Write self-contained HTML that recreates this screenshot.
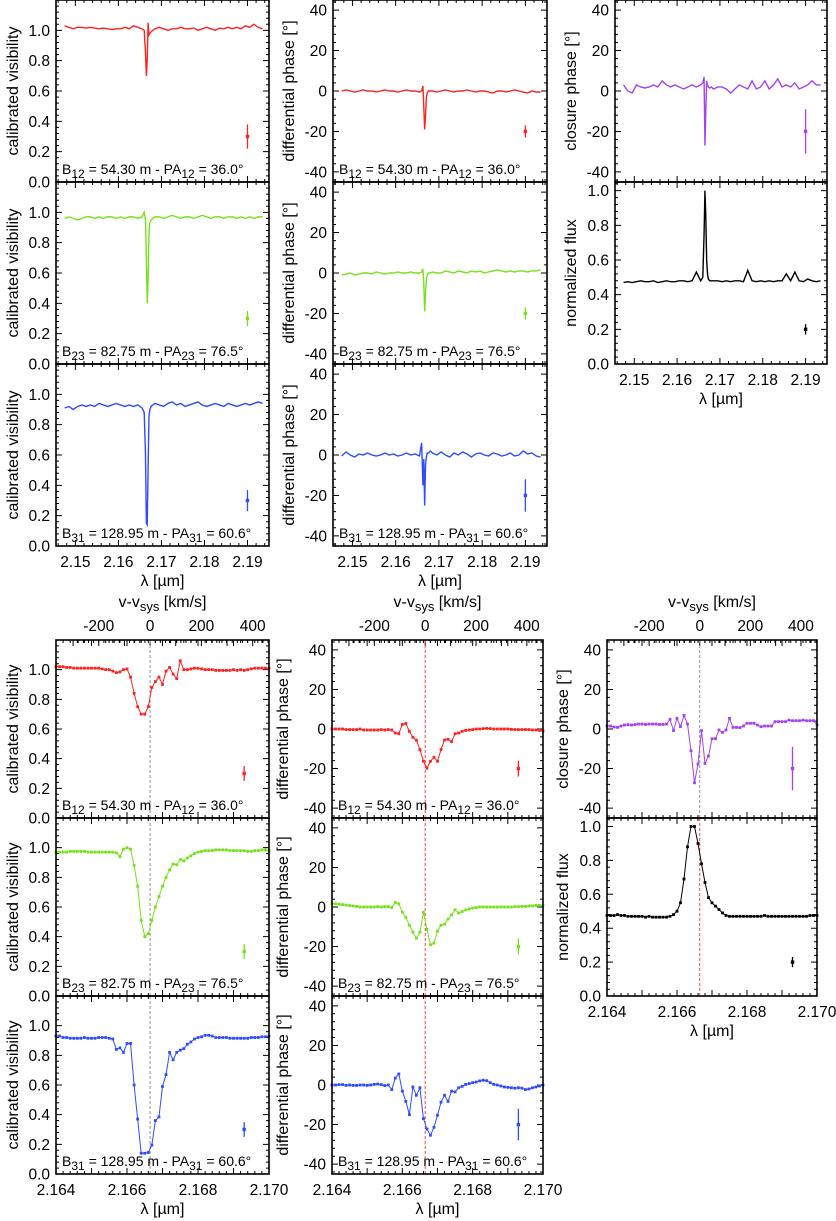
<!DOCTYPE html>
<html><head><meta charset="utf-8"><style>
html,body{margin:0;padding:0;background:#fff;}
svg{display:block;font-family:"Liberation Sans",Arial,sans-serif;}
</style></head><body>
<svg id="fig" width="836" height="1221" viewBox="0 0 836 1221"></svg>
<script>
// ---------- TOP (full spectral range) data ----------
const topWl=[2.1475,2.1485,2.1495,2.1505,2.1515,2.1525,2.1535,2.1545,2.1555,2.1565,2.1575,2.1585,2.1595,2.1605,2.1615,2.1625,2.1635,2.1645,2.1655,
2.1660,2.1663,2.1665,2.1667,2.1669,2.1671,2.1673,2.1676,2.1680,
2.1685,2.1695,2.1705,2.1715,2.1725,2.1735,2.1745,2.1755,2.1765,2.1775,2.1785,2.1795,2.1805,2.1815,2.1825,2.1835,2.1845,2.1855,2.1865,2.1875,2.1885,2.1895,2.1905,2.1915,2.1925,2.1935];
const topVis12=[1.03,1.02,1.01,1.02,1.02,1.015,1.02,1.015,1.01,1.015,1.01,1.005,1.01,1.01,1.02,1.01,1.03,1.02,1.01,
1.0,0.85,0.70,0.80,1.05,0.97,0.98,0.99,1.0,
1.01,1.02,1.01,1.0,1.01,1.01,1.02,1.01,1.01,1.015,1.0,1.01,1.02,1.01,1.0,1.015,1.01,1.02,1.01,1.02,1.01,1.03,1.02,1.04,1.02,1.01];
const topVis23=[0.96,0.97,0.96,0.95,0.96,0.97,0.97,0.96,0.97,0.96,0.97,0.97,0.96,0.97,0.96,0.97,0.97,0.96,0.97,
1.0,0.95,0.70,0.40,0.55,0.85,0.93,0.95,0.96,
0.97,0.97,0.96,0.97,0.98,0.97,0.96,0.97,0.97,0.96,0.97,0.98,0.97,0.96,0.97,0.97,0.96,0.97,0.97,0.96,0.97,0.96,0.97,0.96,0.97,0.97];
const topVis31=[0.91,0.92,0.90,0.92,0.93,0.92,0.93,0.92,0.94,0.93,0.92,0.93,0.94,0.93,0.92,0.93,0.92,0.93,0.91,
0.88,0.60,0.15,0.14,0.50,0.85,0.90,0.92,0.93,
0.94,0.93,0.92,0.94,0.95,0.93,0.94,0.92,0.93,0.94,0.95,0.93,0.92,0.93,0.94,0.93,0.92,0.94,0.93,0.92,0.93,0.94,0.93,0.94,0.95,0.94];
const topPhi12=[0,0.5,0,-0.5,0,0.5,0,0,-0.5,0,0.5,0,0,-0.5,0,0.5,0,0,-0.5,
0,2.5,-8,-19,-12,-3,-1,0,0,
0,-0.5,0,0.5,0,-0.5,0,0,0.5,0,-0.5,0,0,-0.5,-1,0,0,-0.5,0,0.5,0,-0.5,-1,0,-0.5,-0.5];
const topPhi23=[-1,-0.5,0,-1,-0.5,0,0,-0.5,0.5,0,-0.5,0,0,0.5,0,0,0.5,0,0,
0.5,2,-5,-19,-10,-3,-1,0,0,
0.5,0,0,1,0.5,0,1,0.5,0,1,0.5,1,0,0.5,1,1.5,1,0.5,1,0.5,1,1,0.5,1,1,1.5];
const topPhi31=[-0.5,1.5,0,-1,0.5,0,1,0,-0.5,0,1,0,0.5,-0.5,0,1,0,0.5,-0.5,
6,-15,-2,-25,-5,-1,1,1,2,
1,0,1.5,0,-1,1,0,1.5,0.5,-1,0.5,1,0,-0.5,1,0.5,-0.5,0,1,-0.5,0,2,0.5,1,-0.5,-1];
const topCP=[3,0,-1,3,2,1.5,2,3,2,5,3,2,3,2,1,2,3,2,3,
4,7,-27,-10,5,3,2,1.5,2,
1,2,2,1,-1,1,3,2,1,5,1,2,5,1,3,6,2,3,2,4,1,2,3,5,3,3];
const topFlux=[0.47,0.475,0.47,0.475,0.48,0.475,0.475,0.48,0.47,0.475,0.48,0.475,0.475,0.48,0.48,0.475,0.48,0.53,0.48,
0.50,0.75,1.0,0.85,0.60,0.52,0.49,0.48,0.48,
0.48,0.48,0.475,0.48,0.475,0.48,0.48,0.475,0.54,0.48,0.475,0.48,0.475,0.48,0.475,0.48,0.48,0.52,0.48,0.53,0.48,0.475,0.49,0.48,0.475,0.48];
const topXTicks=[2.15,2.16,2.17,2.18,2.19];

// ---------- BOTTOM (zoom on Br gamma) data, 61 channels 2.164-2.170 ----------
const botVis12=[1.02,1.02,1.02,1.015,1.015,1.01,1.01,1.01,1.01,1.01,1.01,1.01,1.01,1.005,1.0,1.0,0.99,0.98,0.985,1.0,1.005,0.95,0.84,0.75,0.70,0.70,0.75,0.88,0.92,0.95,0.90,0.99,1.015,0.97,0.94,1.06,1.0,1.0,1.005,1.01,1.01,1.005,1.0,1.0,1.0,0.995,0.995,0.995,0.995,0.995,1.0,0.995,1.0,0.995,1.0,1.005,1.01,1.01,1.01,1.01,1.01];
const botVis23=[0.97,0.97,0.97,0.97,0.975,0.975,0.975,0.975,0.975,0.97,0.97,0.97,0.97,0.97,0.97,0.97,0.97,0.965,0.94,0.99,1.0,0.99,0.88,0.74,0.51,0.40,0.42,0.51,0.60,0.67,0.74,0.80,0.85,0.89,0.885,0.92,0.91,0.93,0.945,0.96,0.97,0.975,0.98,0.98,0.98,0.985,0.985,0.985,0.985,0.98,0.98,0.98,0.98,0.98,0.975,0.975,0.98,0.98,0.985,0.985,0.98];
const botVis31=[0.93,0.93,0.92,0.92,0.915,0.915,0.915,0.915,0.92,0.915,0.915,0.915,0.92,0.92,0.92,0.915,0.91,0.84,0.85,0.82,0.88,0.88,0.60,0.37,0.14,0.14,0.145,0.195,0.36,0.385,0.59,0.67,0.82,0.77,0.82,0.835,0.845,0.875,0.89,0.91,0.92,0.925,0.935,0.935,0.93,0.92,0.92,0.92,0.92,0.915,0.915,0.915,0.915,0.915,0.915,0.92,0.92,0.92,0.925,0.925,0.93];
const botPhi12=[0,0,0,0,-0.3,-0.3,-0.3,-0.3,0,-0.5,-0.5,-0.5,-0.5,-0.5,-0.3,-0.5,-0.3,-0.5,-2,-2.4,2.3,2.8,-1.2,-4.2,-5.6,-10.4,-16.3,-19.8,-16.3,-14.3,-16.3,-10.4,-5.6,-5.2,-6.4,-2.4,-2,-1.2,-0.7,-0.5,-0.3,0,0,0.2,0.3,0.2,0,0,0,0,0,-0.2,-0.3,-0.3,-0.3,-0.3,-0.3,-0.5,-0.5,-0.7,-1.0];
const botPhi23=[1.7,1.6,1.4,1.2,1.0,0.7,0.5,0.3,0,0,0,0,0,0.2,0,0.2,0.2,-0.3,2.3,1.6,-2.6,-5.2,-9.2,-12.7,-15.8,-12.7,-2.6,-11.3,-19.1,-18.3,-12.2,-9.2,-8.7,-6.1,-4,-1.4,-3,-2.3,-1.5,-1.0,-0.5,-0.3,0,0,0,0,0,0,0,0,0,0,0.2,0.2,0.3,0.3,0.5,0.6,0.8,0.8,0.9];
const botPhi31=[0,0,0.2,0.2,-0.2,0,-0.2,-0.2,0,0,-0.2,0,0.3,0.5,0.2,-0.3,0,-2.3,3.5,5.6,-3.1,-8.3,-15,-1,-5.2,-1.4,-17,-22.3,-25.4,-21.4,-15.3,-8.7,-5.2,-8.3,-3.1,-3.5,-1.4,-0.7,0.3,0.7,1.2,1.5,2.1,2.4,2.2,1.2,0.3,0,-0.5,-1.0,-1.2,-1.4,-1.6,-1.4,-1.6,-2.3,-2.0,-1.4,-1.0,-0.5,0];
const botCP=[1.5,1.5,1.0,0.8,1.5,2.0,2.2,2.0,2.2,2.5,2.5,2.3,2.5,2.5,2.5,2.3,2.3,2.5,4.9,-0.8,5.4,1.2,6.9,2.5,-11,-27.2,-17.7,-0.8,-17.4,-13.7,-4.9,-4.9,-0.5,-1.7,-0.5,5.4,0.8,0.8,0.7,1.5,2.9,2.9,2.9,2.0,1.2,1.5,1.5,1.5,3.7,3.7,3.7,3.7,4.5,4.2,4.2,4.2,4.5,4.2,4.2,4.2,2.0];
const botFlux=[0.475,0.475,0.475,0.48,0.475,0.475,0.47,0.47,0.47,0.47,0.47,0.465,0.47,0.465,0.465,0.465,0.465,0.465,0.47,0.48,0.50,0.55,0.69,0.88,1.0,1.0,0.90,0.78,0.67,0.58,0.55,0.53,0.51,0.49,0.475,0.47,0.47,0.47,0.47,0.47,0.47,0.47,0.47,0.47,0.47,0.475,0.47,0.47,0.47,0.47,0.47,0.47,0.47,0.47,0.47,0.47,0.47,0.47,0.475,0.475,0.475];
const botXTicks=[2.164,2.166,2.168,2.170];
const velTicks=[-200,0,200,400];
const lambda0=2.16665;

const NS='http://www.w3.org/2000/svg';
const svg=document.getElementById('fig');
function mk(tag,parent){const e=document.createElementNS(NS,tag);parent.appendChild(e);return e;}

function txt(parent,x,y,s,size,anchor,rot){
  const t=mk('text',parent);
  t.setAttribute('x',x);t.setAttribute('y',y);
  t.setAttribute('font-size',size);t.setAttribute('text-anchor',anchor||'middle');
  if(rot){t.setAttribute('transform','rotate(-90 '+x+' '+y+')');}
  t.textContent=s;return t;
}
function baseLabel(parent,x,y,sub,B,PA){
  const t=mk('text',parent);
  t.setAttribute('x',x);t.setAttribute('y',y);t.setAttribute('font-size',14);
  const parts=[['B',0],[sub,1],[' = '+B+' m - PA',0],[sub,1],[' = '+PA+'\u00b0',0]];
  let shifted=false;
  parts.forEach(p=>{const s=mk('tspan',t);
    if(p[1]){s.setAttribute('dy','4');s.setAttribute('font-size','12');shifted=true;}
    else if(shifted){s.setAttribute('dy','-4');shifted=false;}
    s.textContent=p[0];});
  return t;
}

function panel(p){
  const g=mk('g',svg);
  
  
  const W=p.x1-p.x0,H=p.y1-p.y0;
  const sx=v=>p.x0+(v-p.xmin)/(p.xmax-p.xmin)*W;
  const sy=v=>p.y1-(v-p.ymin)/(p.ymax-p.ymin)*H;
  const tk=mk('path',g);
  
  
  let d='';
  const xs0=Math.ceil(p.xmin/p.xMinor-1e-6);
  for(let k=xs0;k*p.xMinor<=p.xmax+1e-9;k++){
    const v=k*p.xMinor;const X=sx(v);
    const maj=Math.abs(v/p.xMajor-Math.round(v/p.xMajor))<1e-4;
    const L=maj?6:3;
    d+='M'+X+' '+p.y1+'v'+(-L)+'M'+X+' '+p.y0+'v'+L;
  }
  const ys0=Math.ceil(p.ymin/p.yMinor-1e-6);
  for(let k=ys0;k*p.yMinor<=p.ymax+1e-9;k++){
    const v=k*p.yMinor;const Y=sy(v);
    const maj=Math.abs(v/p.yMajor-Math.round(v/p.yMajor))<1e-4;
    const L=maj?6:3;
    d+='M'+p.x0+' '+Y+'h'+L+'M'+p.x1+' '+Y+'h'+(-L);
  }
  if(p.vel){
    for(let v=-300;v<=500;v+=20){
      const lam=lambda0*(1+v/299792);
      if(lam<p.xmin||lam>p.xmax)continue;
      const X=sx(lam);const L=(v%100===0)?6:3;
      d+='M'+X+' '+p.y0+'v'+L;
    }
  }
  tk.setAttribute('d',d);tk.setAttribute('stroke','#000');tk.setAttribute('stroke-width','1');tk.setAttribute('fill','none');
  p.yLabels.forEach(v=>{
    const t=txt(g,p.x0-6,sy(v)+5.5,p.yFmt(v),15.5,'end');
    
    
  });
  const yt=txt(g,p.yTitleX,(p.y0+p.y1)/2,p.yTitle,16,'middle',true);
  
  
  if(p.xLabels){
    p.xLabels.forEach(v=>{
      const t=txt(g,sx(v),p.y1+21,v.toFixed(p.xDec),15.5,'middle');
      
      
    });
    const xt=txt(g,(p.x0+p.x1)/2,p.y1+40,'\u03bb [\u00b5m]',16,'middle');
    
    
  }
  if(p.vel){
    velTicks.forEach(v=>{
      const X=sx(lambda0*(1+v/299792));
      const t=txt(g,X,p.y0-9,String(v),15.5,'middle');
      
      
    });
    const vt=mk('text',g);
    
    
    vt.setAttribute('x',(p.x0+p.x1)/2);vt.setAttribute('y',p.y0-33);vt.setAttribute('font-size',16);vt.setAttribute('text-anchor','middle');
    const a=mk('tspan',vt);a.textContent='v-v';
    const b=mk('tspan',vt);b.setAttribute('dy','4');b.setAttribute('font-size','13');b.textContent='sys';
    const c=mk('tspan',vt);c.setAttribute('dy','-4');c.textContent=' [km/s]';
  }
  if(p.dashed){
    const dl=mk('line',g);
    
    
    dl.setAttribute('x1',sx(lambda0));dl.setAttribute('x2',sx(lambda0));
    dl.setAttribute('y1',p.y0);dl.setAttribute('y2',p.y1);
    dl.setAttribute('stroke',p.dashed);dl.setAttribute('stroke-width','0.9');dl.setAttribute('stroke-dasharray','3,2');
  }
  const wl=p.wl||p.vals.map((v,i)=>2.164+i*0.006/(p.vals.length-1));
  let pts='';
  p.vals.forEach((v,i)=>{pts+=sx(wl[i]).toFixed(2)+','+sy(v).toFixed(2)+' ';});
  const pl=mk('polyline',g);
  
  
  pl.setAttribute('points',pts);pl.setAttribute('fill','none');pl.setAttribute('stroke',p.color);pl.setAttribute('stroke-width',p.markers?'1':'1.4');
  if(p.markers){
    p.vals.forEach((v,i)=>{
      const r=mk('rect',g);
      
      
      r.setAttribute('x',sx(wl[i])-1.4);r.setAttribute('y',sy(v)-1.4);r.setAttribute('width',2.8);r.setAttribute('height',2.8);r.setAttribute('fill',p.color);
    });
  }
  const eb=mk('line',g);
  
  
  eb.setAttribute('x1',sx(p.eb[0]));eb.setAttribute('x2',sx(p.eb[0]));
  eb.setAttribute('y1',sy(p.eb[1]-p.eb[2]));eb.setAttribute('y2',sy(p.eb[1]+p.eb[2]));
  eb.setAttribute('stroke',p.color);eb.setAttribute('stroke-width','1.3');
  const ed=mk('rect',g);
  
  
  ed.setAttribute('x',sx(p.eb[0])-1.7);ed.setAttribute('y',sy(p.eb[1])-1.7);ed.setAttribute('width',3.4);ed.setAttribute('height',3.4);ed.setAttribute('fill',p.color);
  if(p.base){
    const bl=baseLabel(g,p.x0+6,p.y1-8,p.base[0],p.base[1],p.base[2]);
    
    
  }
  const fr=mk('rect',g);
  
  
  fr.setAttribute('x',p.x0);fr.setAttribute('y',p.y0);fr.setAttribute('width',W);fr.setAttribute('height',H);
  fr.setAttribute('fill','none');fr.setAttribute('stroke','#000');fr.setAttribute('stroke-width','1.6');
}

const RED='#ff2222',GRN='#77e21c',BLU='#2f4cff',PUR='#a542f2',BLK='#000';
const visLab=[0,0.2,0.4,0.6,0.8,1.0], phLab=[-40,-20,0,20,40];
const f1=v=>v.toFixed(1), f0=v=>String(v);
const bases=[['12','54.30','36.0'],['23','82.75','76.5'],['31','128.95','60.6']];

const tRows=[[0,182],[182,364],[364,546]];
const topVis=[topVis12,topVis23,topVis31], topPhi=[topPhi12,topPhi23,topPhi31], cols=[RED,GRN,BLU];
const topPhiErr=[3,3,8], topVisErr=[0.08,0.05,0.07];
for(let r=0;r<3;r++){
  panel({name:'top-visibility-panel-'+(r+1),x0:56,x1:269,y0:tRows[r][0],y1:tRows[r][1],xmin:2.1455,xmax:2.195,ymin:0,ymax:1.2,
    xMajor:0.01,xMinor:0.002,yMajor:0.2,yMinor:0.04,yLabels:visLab,yFmt:f1,yTitle:'calibrated visibility',yTitleX:18,
    xLabels:r===2?topXTicks:null,xDec:2,wl:topWl,vals:topVis[r],color:cols[r],eb:[2.19,0.3,topVisErr[r]],base:bases[r]});
  panel({name:'top-phase-panel-'+(r+1),x0:333,x1:547,y0:tRows[r][0],y1:tRows[r][1],xmin:2.1455,xmax:2.195,ymin:-45,ymax:45,
    xMajor:0.01,xMinor:0.002,yMajor:20,yMinor:4,yLabels:phLab,yFmt:f0,yTitle:'differential phase [\u00b0]',yTitleX:294,
    xLabels:r===2?topXTicks:null,xDec:2,wl:topWl,vals:topPhi[r],color:cols[r],eb:[2.19,-20,topPhiErr[r]],base:bases[r]});
}
panel({name:'top-closure-phase-panel',x0:615,x1:827,y0:0,y1:182,xmin:2.1455,xmax:2.195,ymin:-45,ymax:45,
  xMajor:0.01,xMinor:0.002,yMajor:20,yMinor:4,yLabels:phLab,yFmt:f0,yTitle:'closure phase [\u00b0]',yTitleX:576,
  xLabels:null,wl:topWl,vals:topCP,color:PUR,eb:[2.19,-20,11]});
panel({name:'top-flux-panel',x0:615,x1:827,y0:182,y1:364,xmin:2.1455,xmax:2.195,ymin:0,ymax:1.05,
  xMajor:0.01,xMinor:0.002,yMajor:0.2,yMinor:0.04,yLabels:visLab,yFmt:f1,yTitle:'normalized flux',yTitleX:576,
  xLabels:topXTicks,xDec:2,wl:topWl,vals:topFlux,color:BLK,eb:[2.19,0.2,0.03]});

const bRows=[[640,818],[818,996],[996,1174]];
const botVis=[botVis12,botVis23,botVis31], botPhi=[botPhi12,botPhi23,botPhi31];
for(let r=0;r<3;r++){
  panel({name:'zoom-visibility-panel-'+(r+1),x0:56,x1:269,y0:bRows[r][0],y1:bRows[r][1],xmin:2.164,xmax:2.170,ymin:0,ymax:1.2,
    xMajor:0.001,xMinor:0.0002,yMajor:0.2,yMinor:0.04,yLabels:visLab,yFmt:f1,yTitle:'calibrated visibility',yTitleX:18,
    xLabels:r===2?botXTicks:null,xDec:3,vals:botVis[r],color:cols[r],markers:true,eb:[2.1693,0.3,0.05],base:bases[r],
    dashed:'#888',vel:r===0});
  panel({name:'zoom-phase-panel-'+(r+1),x0:332,x1:543,y0:bRows[r][0],y1:bRows[r][1],xmin:2.164,xmax:2.170,ymin:-45,ymax:45,
    xMajor:0.001,xMinor:0.0002,yMajor:20,yMinor:4,yLabels:phLab,yFmt:f0,yTitle:'differential phase [\u00b0]',yTitleX:288,
    xLabels:r===2?botXTicks:null,xDec:3,vals:botPhi[r],color:cols[r],markers:true,eb:[2.1693,-20,r===2?8:4],base:bases[r],
    dashed:'#ff3030',vel:r===0});
}
panel({name:'zoom-closure-phase-panel',x0:607,x1:817,y0:640,y1:818,xmin:2.164,xmax:2.170,ymin:-45,ymax:45,
  xMajor:0.001,xMinor:0.0002,yMajor:20,yMinor:4,yLabels:phLab,yFmt:f0,yTitle:'closure phase [\u00b0]',yTitleX:568,
  xLabels:null,vals:botCP,color:PUR,markers:true,eb:[2.1693,-20,11],dashed:'#888',vel:true});
panel({name:'zoom-flux-panel',x0:607,x1:817,y0:818,y1:996,xmin:2.164,xmax:2.170,ymin:0,ymax:1.05,
  xMajor:0.001,xMinor:0.0002,yMajor:0.2,yMinor:0.04,yLabels:visLab,yFmt:f1,yTitle:'normalized flux',yTitleX:568,
  xLabels:botXTicks,xDec:3,vals:botFlux,color:BLK,markers:true,eb:[2.1693,0.2,0.03],dashed:'#ff3030'});
</script>
</body></html>
